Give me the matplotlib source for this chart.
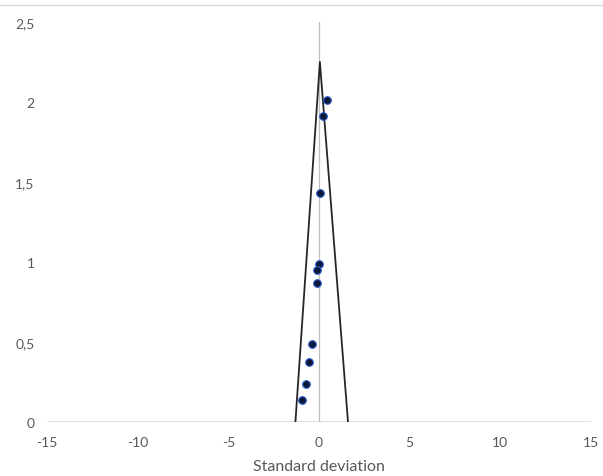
import numpy as np
import matplotlib.pyplot as plt
from matplotlib.lines import Line2D

# studier: effekt (standardavvik) og presisjon
effect = [0.46, 0.20, 0.07, -0.02, -0.11, -0.11, -0.40, -0.53, -0.73, -0.94]
precision = [2.01, 1.91, 1.43, 0.99, 0.95, 0.87, 0.49, 0.375, 0.235, 0.14]

# traktlinjer (venstre bunn, topp, hoyre bunn)
funnel_x = [-1.3, 0.05, 1.6]
funnel_y = [0.0, 2.25, 0.0]

xticks = [-15, -10, -5, 0, 5, 10, 15]
yticks = [0, 0.5, 1, 1.5, 2, 2.5]
ytick_labels = ['0', '0,5', '1', '1,5', '2', '2,5']

plt.rcParams['font.family'] = ['Lato', 'DejaVu Sans']
plt.rcParams['axes.unicode_minus'] = False
grey_txt = '#595959'

fig = plt.figure(figsize=(6.03, 4.77), dpi=100)
ax = fig.add_axes([0.078, 0.1132, 0.902, 0.8386])

ax.plot([-15, 15], [0, 0], color='#d9d9d9', lw=1.2, zorder=1)
ax.plot([0, 0], [0, 2.5], color='#bfbfbf', lw=0.9, zorder=1)
ax.plot(funnel_x, funnel_y, color='#262626', lw=1.3, zorder=2)
ax.scatter(effect, precision, s=30, color='#0b1838', edgecolors='#2a5ac8',
           linewidths=0.8, zorder=3)

ax.set_xlim(-15, 15)
ax.set_ylim(0, 2.5)
ax.set_xticks(xticks)
ax.set_yticks(yticks)
ax.set_yticklabels(ytick_labels)
for s in ax.spines.values():
    s.set_visible(False)
ax.tick_params(axis='x', length=0, pad=10, labelsize=10, labelcolor=grey_txt)
ax.tick_params(axis='y', length=0, pad=9, labelsize=10, labelcolor=grey_txt)
ax.set_xlabel('Standard deviation', fontsize=11.5, color=grey_txt, labelpad=8)

# tynn linje helt oppe
fig.add_artist(Line2D([0, 1], [1 - 6/477, 1 - 6/477], color='#d9d9d9', lw=1,
                      transform=fig.transFigure))

fig.savefig('out.png', dpi=100)
